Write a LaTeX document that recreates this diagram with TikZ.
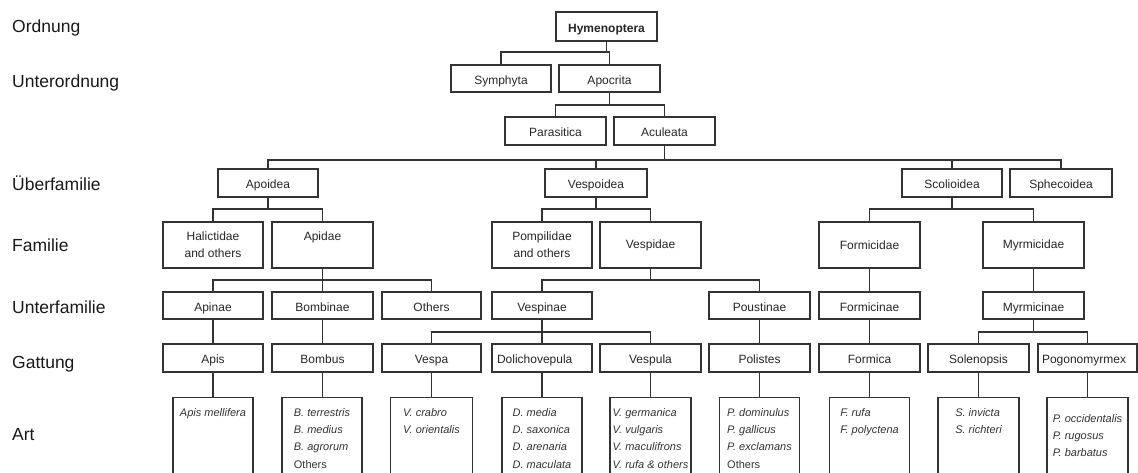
\documentclass[tikz,border=0pt]{standalone}
\usepackage{fontspec}
\setmainfont{Liberation Sans}
\begin{document}
\begin{tikzpicture}[x=1pt,y=-1pt,
  box/.style={draw=black!80, line width=1.1pt, minimum width=101pt, minimum height=28pt,
    inner sep=2pt, font=\fontsize{12}{17}\selectfont, text=black!85, align=center},
  sbox/.style={box, text height=11pt, text depth=0pt},
  spbox/.style={draw=black!80, line width=1.1pt, minimum width=80pt, minimum height=90pt,
    anchor=north, inner sep=0pt},
  sptext/.style={anchor=north, align=left, inner sep=0pt,
    font=\fontsize{11}{17.3}\selectfont\itshape, text=black!80},
  lvl/.style={anchor=base west, inner sep=0pt, font=\fontsize{17.5}{20}\selectfont, text=black!90},
  conn/.style={draw=black!80, line width=1.1pt}]
\useasboundingbox (0,0) rectangle (1138,472);

% level labels
\node[lvl] (lOrd) at (12,32) {Ordnung};
\node[lvl] (lUOrd) at (12,87.5) {Unterordnung};
\node[lvl] (lUeF) at (12,190) {Überfamilie};
\node[lvl] (lFam) at (12,251) {Familie};
\node[lvl] (lUFam) at (12,313.5) {Unterfamilie};
\node[lvl] (lGat) at (12,368.5) {Gattung};
\node[lvl] (lArt) at (12,440) {Art};

% bus levels
\coordinate (b1) at (0,52);
\coordinate (b2) at (0,105);
\coordinate (b3) at (0,160);
\coordinate (b4) at (0,209);
\coordinate (b5) at (0,280);
\coordinate (b6) at (0,332);

% Ordnung
\node[sbox, line width=1.6pt, minimum height=29pt, font=\fontsize{12}{17}\selectfont\bfseries] (hym) at (606.5,26.5) {Hymenoptera};
% Unterordnung
\node[sbox, minimum width=100pt, minimum height=27pt] (sym) at (501,78.5) {Symphyta};
\node[sbox, minimum height=27pt] (apo) at (609.5,78.5) {Apocrita};
\node[sbox] (para) at (555.5,131) {Parasitica};
\node[sbox] (acul) at (664.5,131) {Aculeata};
% Ueberfamilie
\node[sbox, minimum width=100pt] (apoidea) at (268,183) {Apoidea};
\node[sbox, minimum width=102pt] (vespoidea) at (596,183) {Vespoidea};
\node[sbox, minimum width=100pt] (scol) at (952,183) {Scolioidea};
\node[sbox, minimum width=102pt] (sphec) at (1061,183) {Sphecoidea};
% Familie
\node[box, minimum width=100pt, minimum height=46pt] (halic) at (213,245) {Halictidae\\and others};
\node[box, minimum height=46pt] (apidae) at (322.5,245) {Apidae\\\mbox{}};
\node[box, minimum width=100pt, minimum height=46pt] (pompil) at (542,245) {Pompilidae\\and others};
\node[box, minimum height=46pt] (vespidae) at (650.5,245) {Vespidae};
\node[box, minimum height=46pt] (formicidae) at (869.5,245) {Formicidae};
\node[box, minimum height=46pt] (myrmicidae) at (1033.5,245) {Myrmicidae};
% Unterfamilie
\node[sbox, minimum width=100pt, minimum height=27pt] (apinae) at (213,305.5) {Apinae};
\node[sbox, minimum height=27pt] (bombinae) at (322.5,305.5) {Bombinae};
\node[sbox, minimum width=99pt, minimum height=27pt] (others) at (431.5,305.5) {Others};
\node[sbox, minimum width=100pt, minimum height=27pt] (vespinae) at (542,305.5) {Vespinae};
\node[sbox, minimum height=27pt] (poustinae) at (759.5,305.5) {Poustinae};
\node[sbox, minimum height=27pt] (formicinae) at (869.5,305.5) {Formicinae};
\node[sbox, minimum height=27pt] (myrmicinae) at (1033.5,305.5) {Myrmicinae};
% Gattung
\node[sbox, minimum width=100pt] (apis) at (213,358) {Apis};
\node[sbox] (bombus) at (322.5,358) {Bombus};
\node[sbox, minimum width=99pt] (vespa) at (431.5,358) {Vespa};
\node[sbox, minimum width=100pt] (dolicho) at (542,358) {\makebox[90pt][l]{Dolichovepula}};
\node[sbox] (vespula) at (650.5,358) {Vespula};
\node[sbox] (polistes) at (759.5,358) {Polistes};
\node[sbox] (formica) at (869.5,358) {Formica};
\node[sbox] (solen) at (978.5,358) {Solenopsis};
\node[sbox, minimum width=99pt] (pogono) at (1087.5,358) {\makebox[91pt][l]{Pogonomyrmex}};

% Art boxes
\node[spbox] (sApis) at (213,397) {};
\node[spbox] (sBombus) at (322,397) {};
\node[spbox, minimum width=82pt] (sVespa) at (431.5,397) {};
\node[spbox] (sDolicho) at (542,397) {};
\node[spbox, minimum width=81pt] (sVespula) at (650.5,397) {};
\node[spbox] (sPolistes) at (759.5,397) {};
\node[spbox] (sFormica) at (869.5,397) {};
\node[spbox, minimum width=81pt] (sSolen) at (978.5,397) {};
\node[spbox, minimum width=81pt] (sPogono) at (1087.5,397) {};

\node[sptext] (tApis) at ([yshift=-11pt]sApis.north) {Apis mellifera};
\node[sptext] (tBombus) at ([yshift=-11pt]sBombus.north) {B. terrestris\\B. medius\\B. agrorum\\{\upshape Others}};
\node[sptext] (tVespa) at ([yshift=-11pt]sVespa.north) {V. crabro\\V. orientalis};
\node[sptext] (tDolicho) at ([yshift=-11pt]sDolicho.north) {D. media\\D. saxonica\\D. arenaria\\D. maculata};
\node[sptext] (tVespula) at ([yshift=-11pt]sVespula.north) {V. germanica\\V. vulgaris\\V. maculifrons\\V. rufa \& others};
\node[sptext] (tPolistes) at ([yshift=-11pt]sPolistes.north) {P. dominulus\\P. gallicus\\P. exclamans\\{\upshape Others}};
\node[sptext] (tFormica) at ([yshift=-11pt]sFormica.north) {F. rufa\\F. polyctena};
\node[sptext] (tSolen) at ([yshift=-11pt]sSolen.north) {S. invicta\\S. richteri};
\node[sptext] (tPogono) at ([yshift=-17pt]sPogono.north) {P. occidentalis\\P. rugosus\\P. barbatus};

% connectors
\draw[conn] (hym.south) -- (hym.south |- b1);
\draw[conn] (sym.north) |- (apo.north |- b1) -- (apo.north);

\draw[conn] (apo.south) -- (apo.south |- b2);
\draw[conn] (para.north) |- (acul.north |- b2) -- (acul.north);

\draw[conn] (acul.south) -- (acul.south |- b3);
\draw[conn] (apoidea.north) |- (sphec.north |- b3) -- (sphec.north);
\draw[conn] (vespoidea.north) -- (vespoidea.north |- b3);
\draw[conn] (scol.north) -- (scol.north |- b3);

\draw[conn] (apoidea.south) -- (apoidea.south |- b4);
\draw[conn] (halic.north) |- (apidae.north |- b4) -- (apidae.north);
\draw[conn] (vespoidea.south) -- (vespoidea.south |- b4);
\draw[conn] (pompil.north) |- (vespidae.north |- b4) -- (vespidae.north);
\draw[conn] (scol.south) -- (scol.south |- b4);
\draw[conn] (formicidae.north) |- (myrmicidae.north |- b4) -- (myrmicidae.north);

\draw[conn] (apidae.south) -- (apidae.south |- b5);
\draw[conn] (apinae.north) |- (others.north |- b5) -- (others.north);
\draw[conn] (bombinae.north) -- (bombinae.north |- b5);
\draw[conn] (vespidae.south) -- (vespidae.south |- b5);
\draw[conn] (vespinae.north) |- (poustinae.north |- b5) -- (poustinae.north);
\draw[conn] (formicidae.south) -- (formicinae.north);
\draw[conn] (myrmicidae.south) -- (myrmicinae.north);

\draw[conn] (vespinae.south) -- (vespinae.south |- b6);
\draw[conn] (vespa.north) |- (vespula.north |- b6) -- (vespula.north);
\draw[conn] (dolicho.north) -- (dolicho.north |- b6);
\draw[conn] (myrmicinae.south) -- (myrmicinae.south |- b6);
\draw[conn] (solen.north) |- (pogono.north |- b6) -- (pogono.north);
\draw[conn] (apinae.south) -- (apis.north);
\draw[conn] (bombinae.south) -- (bombus.north);
\draw[conn] (poustinae.south) -- (polistes.north);
\draw[conn] (formicinae.south) -- (formica.north);

\draw[conn] (apis.south) -- (sApis.north);
\draw[conn] (bombus.south) -- (bombus.south |- sBombus.north);
\draw[conn] (vespa.south) -- (sVespa.north);
\draw[conn] (dolicho.south) -- (sDolicho.north);
\draw[conn] (vespula.south) -- (sVespula.north);
\draw[conn] (polistes.south) -- (sPolistes.north);
\draw[conn] (formica.south) -- (sFormica.north);
\draw[conn] (solen.south) -- (sSolen.north);
\draw[conn] (pogono.south) -- (sPogono.north);
\end{tikzpicture}
\end{document}
